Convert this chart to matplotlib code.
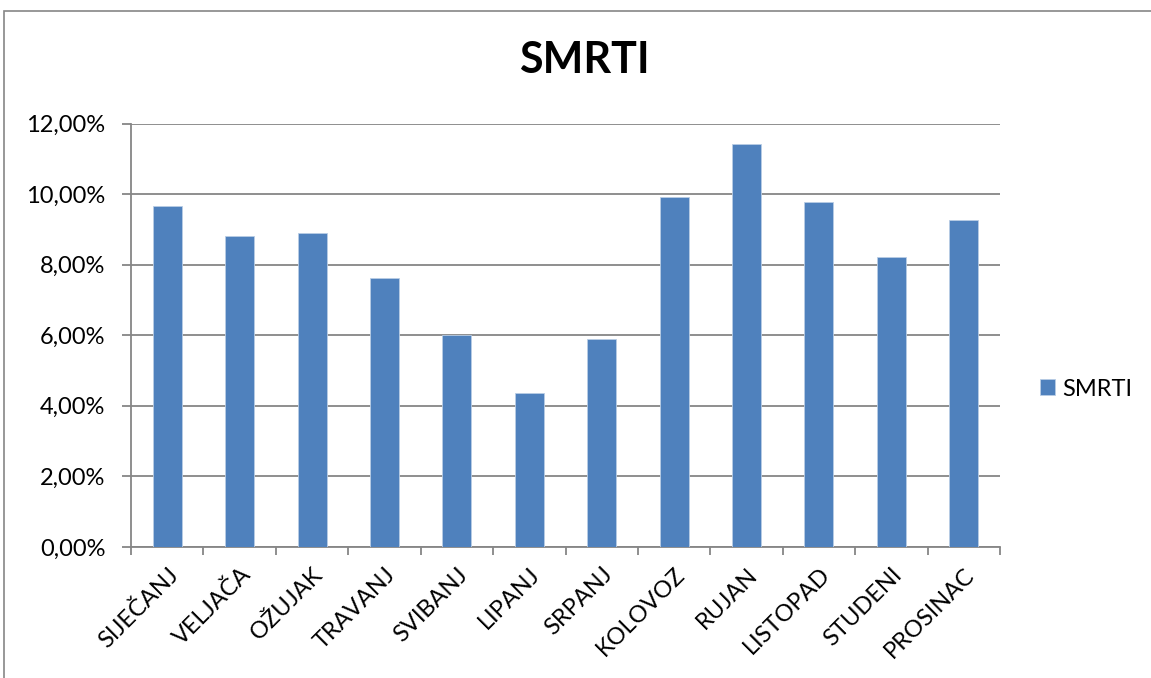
import matplotlib.pyplot as plt
from matplotlib.patches import Rectangle
from matplotlib.ticker import FuncFormatter
import numpy as np

months = ["SIJEČANJ", "VELJAČA", "OŽUJAK", "TRAVANJ", "SVIBANJ", "LIPANJ",
          "SRPANJ", "KOLOVOZ", "RUJAN", "LISTOPAD", "STUDENI", "PROSINAC"]
smrti = [9.67, 8.82, 8.91, 7.63, 6.00, 4.37, 5.90, 9.91, 11.41, 9.78, 8.21, 9.26]
yticks = [0, 2, 4, 6, 8, 10, 12]

plt.rcParams['font.family'] = ['Lato', 'DejaVu Sans']

fig = plt.figure(figsize=(11.51, 6.78), dpi=100)
fig.patches.append(Rectangle((4 / 1151, -0.1), 1.2, 1 - 11 / 678 + 0.1,
                             transform=fig.transFigure, fill=False,
                             edgecolor="#868686", linewidth=1.2))

ax = fig.add_axes([131 / 1151, 1 - 547 / 678, 869 / 1151, 423.5 / 678])
x = np.arange(len(months))
ax.bar(x, smrti, width=0.4, color="#4F81BD", edgecolor="#B9CDE5",
       linewidth=0.6, label="SMRTI", zorder=3)

ax.set_xlim(-0.5, len(months) - 0.5)
ax.set_ylim(0, 12)
ax.set_yticks(yticks)
ax.yaxis.set_major_formatter(FuncFormatter(lambda v, p: f"{v:.2f}%".replace(".", ",")))
ax.grid(axis="y", color="#868686", linewidth=1.3, zorder=0)

ax.set_xticks(x)
ax.set_xticklabels(months, rotation=45, ha="right", va="top", rotation_mode="anchor")
ax.set_xticks(np.arange(-0.5, len(months)), minor=True)
ax.tick_params(axis="x", which="major", length=0, pad=12, labelsize=17)
ax.tick_params(axis="x", which="minor", length=6, width=1.3, color="#868686")
ax.tick_params(axis="y", length=6.5, width=1.3, color="#868686", labelsize=17, pad=12)

for s in ["top", "right"]:
    ax.spines[s].set_visible(False)
for s in ["left", "bottom"]:
    ax.spines[s].set_color("#868686")
    ax.spines[s].set_linewidth(1.3)

fig.suptitle("SMRTI", x=584 / 1151, y=1 - 40 / 678, fontsize=31, fontweight="bold")

ax.legend(loc="center left", bbox_to_anchor=(1040 / 1151, 1 - 389 / 678),
          bbox_transform=fig.transFigure, frameon=False, borderpad=0, borderaxespad=0,
          fontsize=17, handlelength=0.64, handleheight=0.64, handletextpad=0.3)

fig.savefig("out.png", dpi=100)
